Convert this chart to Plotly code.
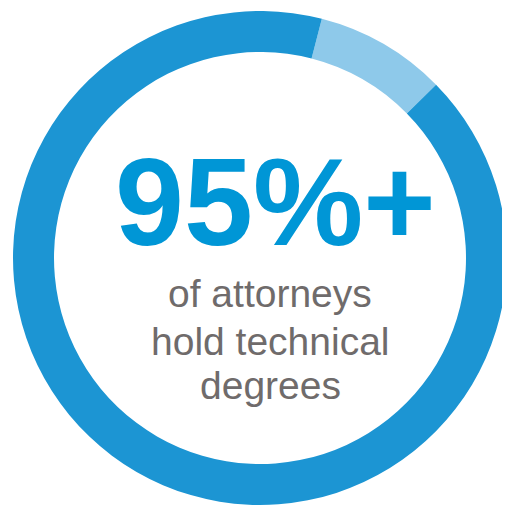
import plotly.graph_objects as go

labels = ["Other", "Technical degrees"]
values = [8.6, 91.4]
colors = ["#8EC9EA", "#1C95D3"]
headline = "95%+"
caption_lines = ["of attorneys", "hold technical", "degrees"]

# page body has an 8px margin, so the figure is 502x500 and coordinates are shifted
W, H = 502, 500
cx, cy, r = 252, 250, 247

fig = go.Figure(go.Pie(
    labels=labels, values=values, sort=False, direction="clockwise",
    rotation=14.5, hole=0.834, textinfo="none", hoverinfo="label+percent",
    marker=dict(colors=colors, line=dict(width=0)),
    domain=dict(x=[(cx - r) / W, (cx + r) / W], y=[(H - cy - r) / H, (H - cy + r) / H]),
    showlegend=False,
))

fig.add_annotation(x=267 / W, y=1 - 194 / H, xref="paper", yref="paper",
                   text="<b>" + headline + "</b>", showarrow=False,
                   font=dict(family="Liberation Sans, Arial", size=124, color="#0096D6"),
                   xanchor="center", yanchor="middle")
line_y = [285, 333, 377]
for txt, yy in zip(caption_lines, line_y):
    fig.add_annotation(x=262 / W, y=1 - yy / H, xref="paper", yref="paper",
                       text=txt, showarrow=False,
                       font=dict(family="Liberation Sans, Arial", size=39, color="#6F6B6B"),
                       xanchor="center", yanchor="middle")

fig.update_layout(width=W, height=H, margin=dict(l=0, r=0, t=0, b=0),
                  paper_bgcolor="white", plot_bgcolor="white")
fig.write_html("out.html")
